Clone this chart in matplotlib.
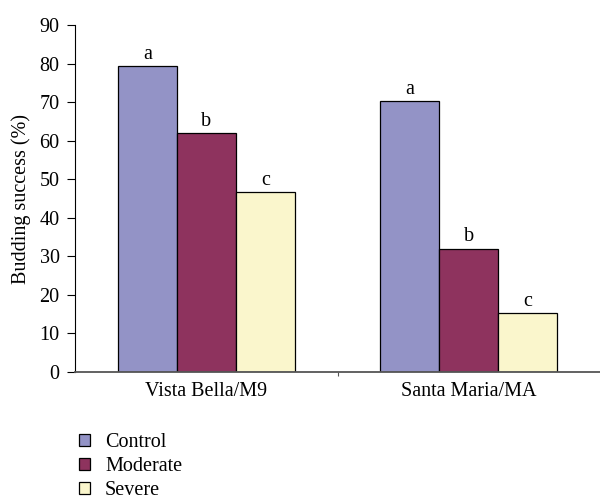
import numpy as np
import matplotlib.pyplot as plt
from matplotlib.patches import Patch

plt.rcParams['font.family'] = 'Liberation Serif'

groups = ['Vista Bella/M9', 'Santa Maria/MA']
series = ['Control', 'Moderate', 'Severe']
control = [79.3, 70.2]
moderate = [62.0, 32.0]
severe = [46.7, 15.3]
letters = ['a', 'b', 'c']
colors = ['#9393c6', '#8e335e', '#faf6cc']

fs = 14.5
fig = plt.figure(figsize=(6.0, 5.01), dpi=100)
ax = fig.add_axes([0.125, 0.2575, 0.875, 0.6925])

x = np.array([0.5, 1.5])
w = 0.225
for i, (vals, c) in enumerate(zip([control, moderate, severe], colors)):
    xs = x + (i - 1) * w
    ax.bar(xs, vals, width=w, color=c, edgecolor='black', linewidth=0.9)
    for xx, v in zip(xs, vals):
        ax.text(xx, v + 0.6, letters[i], ha='center', va='bottom', fontsize=fs)

ax.set_xlim(0, 2)
ax.set_ylim(0, 90)
ax.set_yticks(range(0, 91, 10))
ax.set_xticks([1])
ax.set_xticklabels([])
ax.set_xticks(x, minor=True)
ax.set_xticklabels(groups, minor=True, fontsize=fs)
ax.tick_params(axis='x', which='minor', length=0, pad=7)
ax.tick_params(axis='x', which='major', length=3, color='#555555')
ax.tick_params(axis='y', labelsize=fs, length=6, pad=5)
ax.set_ylabel('Budding success (%)', fontsize=fs, labelpad=6)
ax.spines['top'].set_visible(False)
ax.spines['right'].set_visible(False)
ax.spines['bottom'].set_color('#555555')
ax.spines['bottom'].set_linewidth(1.3)

handles = [Patch(facecolor=c, edgecolor='black', linewidth=0.9, label=s)
           for s, c in zip(series, colors)]
fig.legend(handles=handles, loc='upper left', bbox_to_anchor=(0.118, 0.152),
           frameon=False, prop={'family': 'Liberation Serif', 'size': fs},
           handlelength=0.55, handleheight=0.55,
           handletextpad=0.75, labelspacing=0.25, borderaxespad=0)

fig.savefig('out.png', dpi=100)
